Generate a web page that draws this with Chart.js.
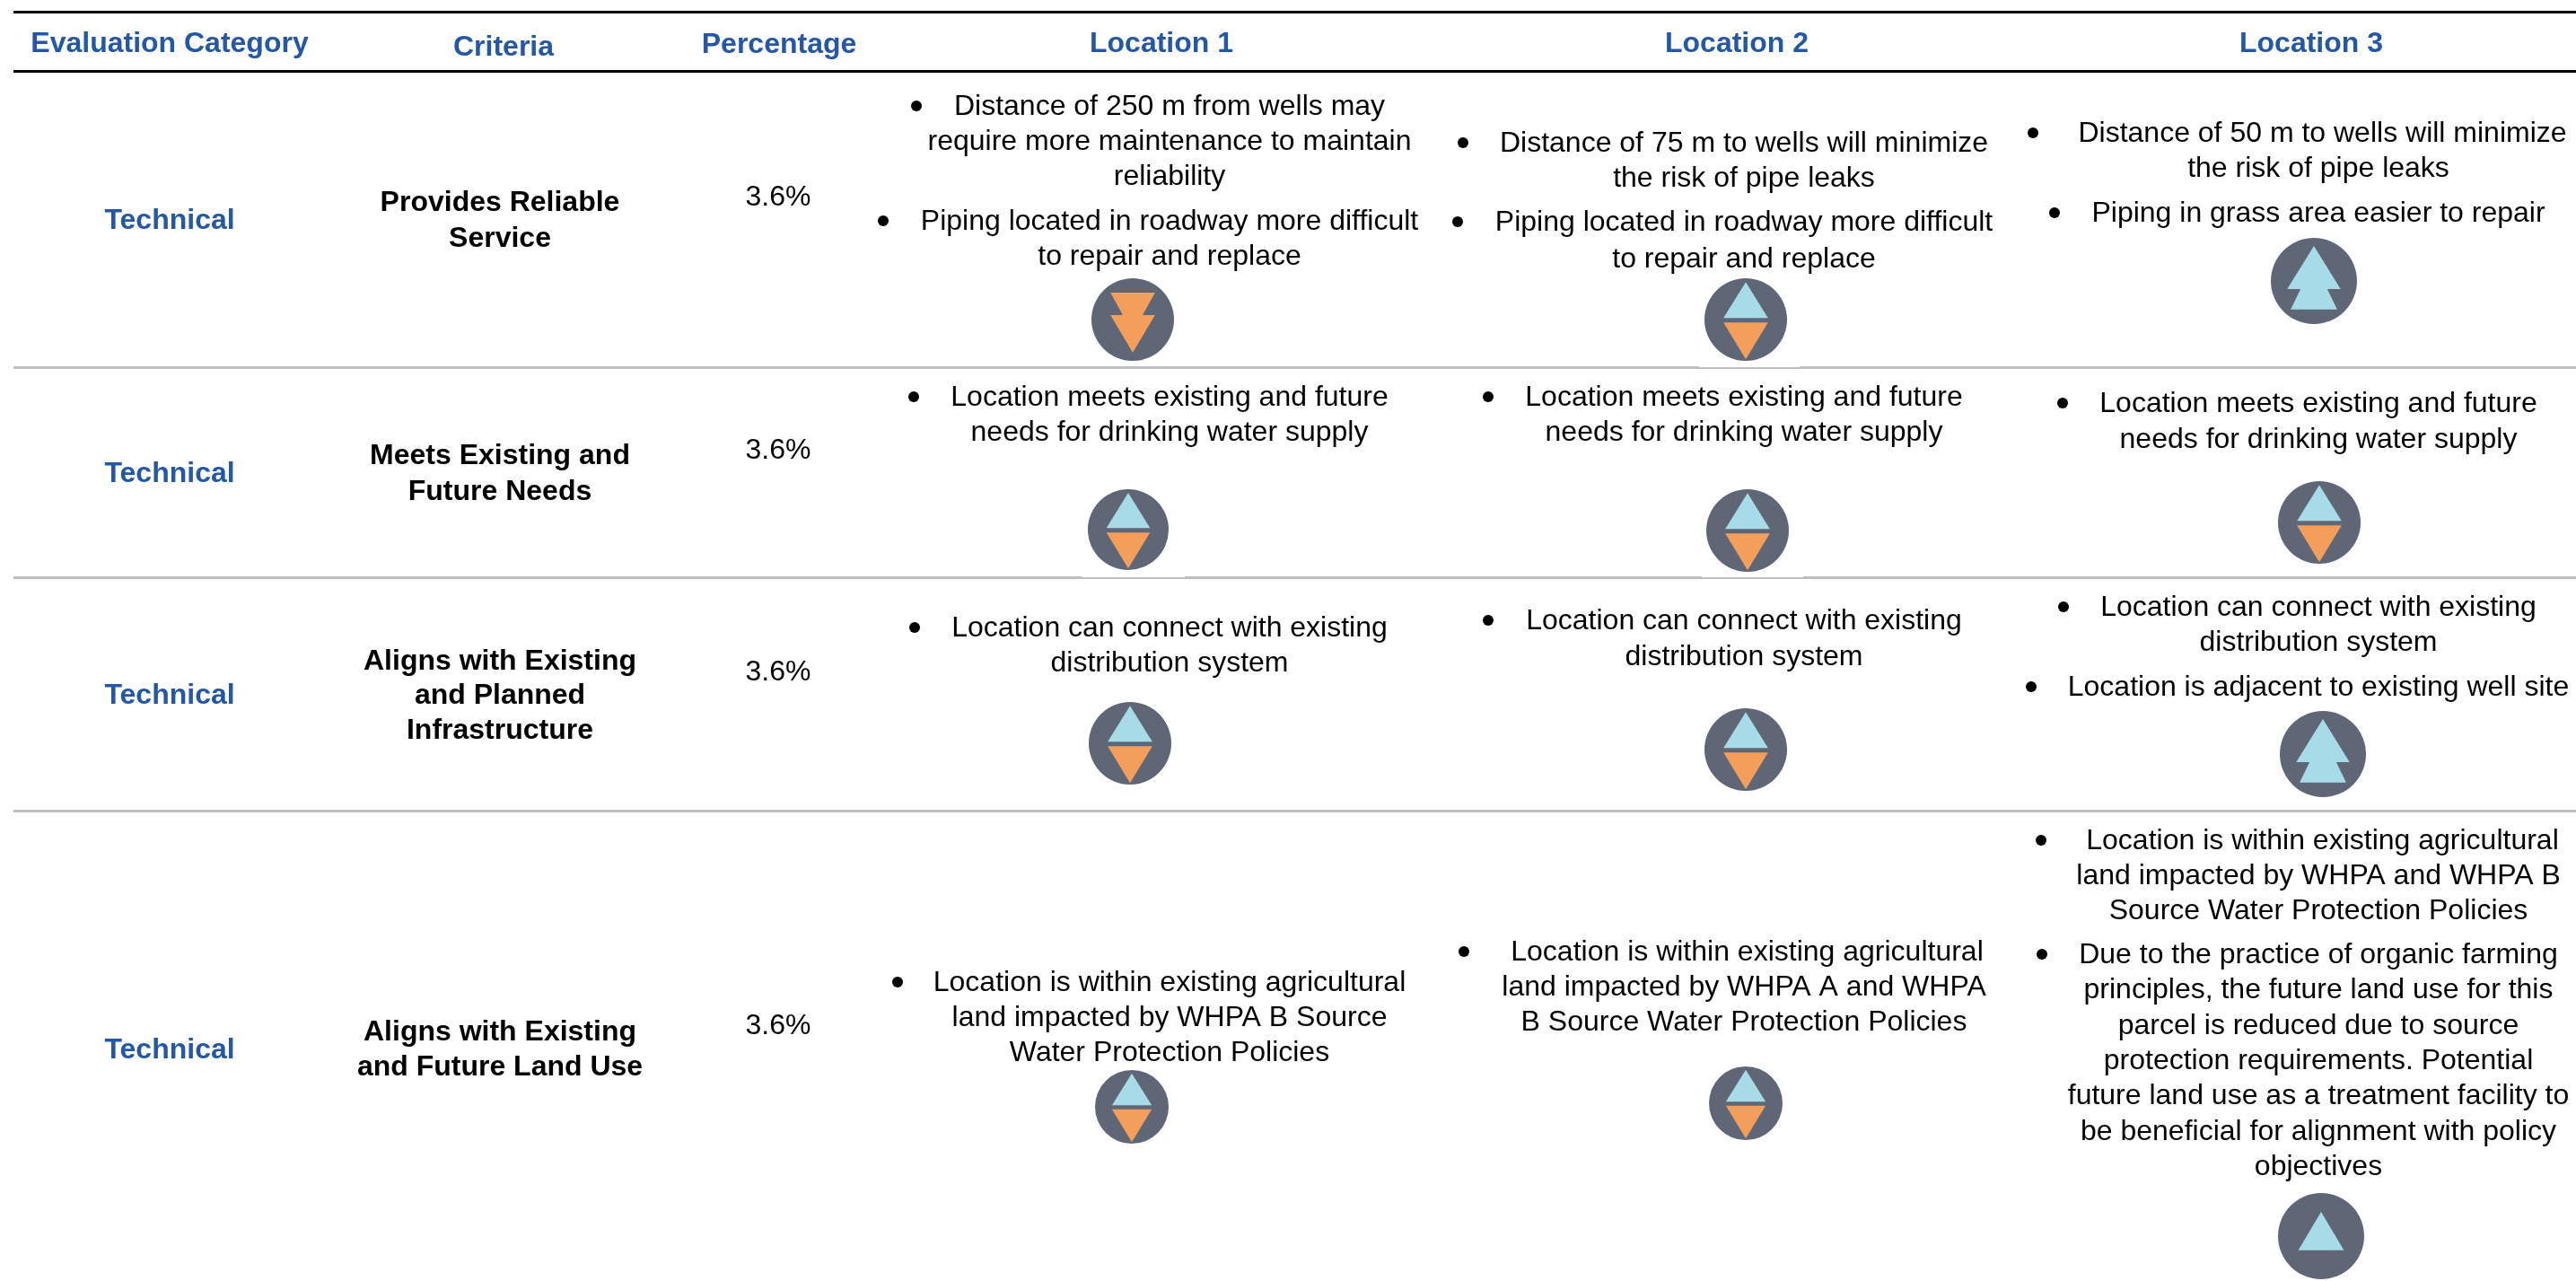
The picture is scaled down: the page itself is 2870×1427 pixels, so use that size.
<!DOCTYPE html>
<html>
<head>
<meta charset="utf-8">
<title>Evaluation table</title>
<script src="https://cdn.jsdelivr.net/npm/chart.js@4/dist/chart.umd.min.js"></script>
<style>
  html, body { margin: 0; padding: 0; background: #fff; }
  canvas { display: block; }
</style>
</head>
<body>
<canvas id="table-chart" width="2870" height="1427"></canvas>
<script>
// table content
const columnHeaders = ['Evaluation Category', 'Criteria', 'Percentage', 'Location 1', 'Location 2', 'Location 3'];
const categories = ['Technical', 'Technical', 'Technical', 'Technical'];
const criteria = [
  ['Provides Reliable', 'Service'],
  ['Meets Existing and', 'Future Needs'],
  ['Aligns with Existing', 'and Planned', 'Infrastructure'],
  ['Aligns with Existing', 'and Future Land Use']
];
const percentages = [3.6, 3.6, 3.6, 3.6];

const location1Text = [
  [['Distance of 250 m from wells may', 'require more maintenance to maintain', 'reliability'],
   ['Piping located in roadway more difficult', 'to repair and replace']],
  [['Location meets existing and future', 'needs for drinking water supply']],
  [['Location can connect with existing', 'distribution system']],
  [['Location is within existing agricultural', 'land impacted by WHPA B Source', 'Water Protection Policies']]
];
const location2Text = [
  [['Distance of 75 m to wells will minimize', 'the risk of pipe leaks'],
   ['Piping located in roadway more difficult', 'to repair and replace']],
  [['Location meets existing and future', 'needs for drinking water supply']],
  [['Location can connect with existing', 'distribution system']],
  [['Location is within existing agricultural', 'land impacted by WHPA A and WHPA', 'B Source Water Protection Policies']]
];
const location3Text = [
  [['Distance of 50 m to wells will minimize', 'the risk of pipe leaks'],
   ['Piping in grass area easier to repair']],
  [['Location meets existing and future', 'needs for drinking water supply']],
  [['Location can connect with existing', 'distribution system'],
   ['Location is adjacent to existing well site']],
  [['Location is within existing agricultural', 'land impacted by WHPA and WHPA B', 'Source Water Protection Policies'],
   ['Due to the practice of organic farming', 'principles, the future land use for this', 'parcel is reduced due to source',
    'protection requirements. Potential', 'future land use as a treatment facility to', 'be beneficial for alignment with policy', 'objectives']]
];

// -2 double down, 0 neutral, 1 single up, 2 double up
const location1Ratings = [-2, 0, 0, 0];
const location2Ratings = [0, 0, 0, 0];
const location3Ratings = [2, 0, 2, 1];

// layout, in page pixels
const RULE_LEFT = 15, RULE_RIGHT = 2870;
const headerRules = [13.5, 79.5];
const rowRules = [409.5, 643.5, 903.5];
// white icon boxes clip one pixel off the rule above them: [y, x0, x1]
const ruleNotches = [[408.5, 1893, 2005], [642.5, 1205, 1320], [642.5, 1896, 2009]];
const headerX = [189, 561, 868, 1294, 1935, 2575];
const headerY = [47, 51, 48, 47.5, 47.5, 47.5];
const categoryX = 189, criteriaX = 557, percentX = 867;
const categoryY = [244, 526, 773, 1168];
const criteriaY = [[224, 264], [506, 546], [735, 773, 812], [1148, 1187]];
const percentY = [218, 500, 747, 1141];
const locationX = [1303, 1943, 2583];
const location1Y = [[[117, 156, 195], [245, 284]], [[441, 480]], [[698, 737]], [[1093, 1132, 1171]]];
const location2Y = [[[158, 197], [246, 287]], [[441, 480]], [[690, 730]], [[1059, 1098, 1137]]];
const location3Y = [[[147, 186], [236]], [[448, 488]], [[675, 714], [764]],
  [[935, 974, 1013], [1062, 1101, 1141, 1180, 1219, 1259, 1298]]];
// first lines that sit right of the centred block because of the bullet indent: 'col_row_bullet'
const firstLineShift = { '1_3_0': 3.5, '2_0_0': 4.5, '2_3_0': 4.5 };
const location1BulletX = [[1021, 984], [1018], [1019], [1000]];
const location2BulletX = [[1630, 1624], [1658], [1658], [1631]];
const location3BulletX = [[2265, 2289], [2298], [2299, 2263], [2274, 2275]];
const location1Icons = [[1262, 356, 46], [1257, 590, 45], [1259, 828, 46], [1261, 1233, 41]];
const location2Icons = [[1945, 356, 46], [1947, 591, 46], [1945, 835, 46], [1945, 1229, 41]];
const location3Icons = [[2578, 313, 48], [2584, 582, 46], [2588, 840, 48], [2586, 1377, 48]];

const BLUE = '#2457A6', DISC = '#5F6675', UP = '#A8DBE8', DOWN = '#F49E5C';
const FONT = '"Liberation Sans", Arial, sans-serif';
const TEXT_PX = 32;
const TEXT_DROP = 2;

const iconCache = {};
function poly(g, r, color, pts) {
  g.fillStyle = color;
  g.beginPath();
  pts.forEach(([x, y], i) => i ? g.lineTo(x * r, y * r) : g.moveTo(x * r, y * r));
  g.closePath();
  g.fill();
}
// rating disc as a canvas so the library can use it as a point style
function ratingIcon(rating, r) {
  const key = rating + '_' + r;
  if (iconCache[key]) return iconCache[key];
  const c = document.createElement('canvas');
  c.width = c.height = r * 2 + 2;
  const g = c.getContext('2d');
  g.translate(r + 1, r + 1);
  g.fillStyle = DISC;
  g.beginPath();
  g.arc(0, 0, r, 0, Math.PI * 2);
  g.fill();
  if (rating === -2) {
    poly(g, r, DOWN, [[-.54, -.65], [.54, -.65], [.24, -.11], [.54, -.11], [0, .8], [-.54, -.11], [-.24, -.11]]);
  } else if (rating === 2) {
    poly(g, r, UP, [[0, -.81], [.62, .19], [.31, .19], [.54, .66], [-.54, .66], [-.31, .19], [-.62, .19]]);
  } else if (rating === 1) {
    poly(g, r, UP, [[0, -.56], [.53, .33], [-.53, .33]]);
  } else {
    poly(g, r, UP, [[0, -.91], [.54, -.04], [-.54, -.04]]);
    poly(g, r, DOWN, [[-.54, .07], [.54, .07], [0, .96]]);
  }
  iconCache[key] = c;
  return c;
}

const allRatings = [location1Ratings, location2Ratings, location3Ratings];
const allIcons = [location1Icons, location2Icons, location3Icons];
const iconPoints = allRatings.flatMap((ratings, col) => ratings.map((rating, row) => ({
  x: allIcons[col][row][0], y: allIcons[col][row][1], rating, size: allIcons[col][row][2]
})));

const allText = [location1Text, location2Text, location3Text];
const allLineY = [location1Y, location2Y, location3Y];
const allBulletX = [location1BulletX, location2BulletX, location3BulletX];
const bulletPoints = allBulletX.flatMap((rows, col) => rows.flatMap((xs, row) =>
  xs.map((x, b) => ({ x, y: allLineY[col][row][b][0] + 1 }))));

const lineSet = (y, x0, x1, color, width) => ({
  type: 'line', data: [{ x: x0, y }, { x: x1, y }], borderColor: color, borderWidth: width, pointRadius: 0, fill: false
});

const tableText = {
  id: 'tableText',
  afterDatasetsDraw(chart) {
    const { ctx, scales: { x, y } } = chart;
    const put = (str, px, py, font, color) => {
      ctx.font = font;
      ctx.fillStyle = color;
      ctx.fillText(str, x.getPixelForValue(px), y.getPixelForValue(py + TEXT_DROP));
    };
    ctx.save();
    ctx.textAlign = 'center';
    ctx.textBaseline = 'middle';
    const bold = `bold ${TEXT_PX}px ${FONT}`, normal = `${TEXT_PX}px ${FONT}`;
    columnHeaders.forEach((h, i) => put(h, headerX[i], headerY[i], bold, BLUE));
    categories.forEach((c, i) => put(c, categoryX, categoryY[i], bold, BLUE));
    criteria.forEach((lines, i) => lines.forEach((l, j) => put(l, criteriaX, criteriaY[i][j], bold, '#000')));
    percentages.forEach((p, i) => put(p.toFixed(1) + '%', percentX, percentY[i], normal, '#000'));
    allText.forEach((rows, col) => rows.forEach((bullets, row) => bullets.forEach((lines, b) =>
      lines.forEach((l, n) => {
        const shift = n === 0 ? (firstLineShift[`${col}_${row}_${b}`] || 0) : 0;
        put(l, locationX[col] + shift, allLineY[col][row][b][n], normal, '#000');
      }))));
    ctx.restore();
  }
};

new Chart(document.getElementById('table-chart'), {
  type: 'scatter',
  data: {
    datasets: [
      ...ruleNotches.map(([y, x0, x1]) => lineSet(y, x0, x1, '#FFFFFF', 1)),
      ...headerRules.map(y => lineSet(y, RULE_LEFT, RULE_RIGHT, '#000000', 3)),
      ...rowRules.map(y => lineSet(y, RULE_LEFT, RULE_RIGHT, '#BFBFBF', 3)),
      {
        data: bulletPoints,
        pointRadius: 6,
        pointBackgroundColor: '#000',
        pointBorderWidth: 0
      },
      {
        data: iconPoints,
        pointStyle: ctx => ratingIcon(ctx.raw.rating, ctx.raw.size)
      }
    ]
  },
  options: {
    responsive: false,
    animation: false,
    layout: { padding: 0, autoPadding: false },
    plugins: { legend: { display: false }, tooltip: { enabled: false } },
    scales: {
      x: { type: 'linear', min: 0, max: 2870, display: false },
      y: { type: 'linear', min: 0, max: 1427, reverse: true, display: false }
    }
  },
  plugins: [tableText]
});
</script>
</body>
</html>
